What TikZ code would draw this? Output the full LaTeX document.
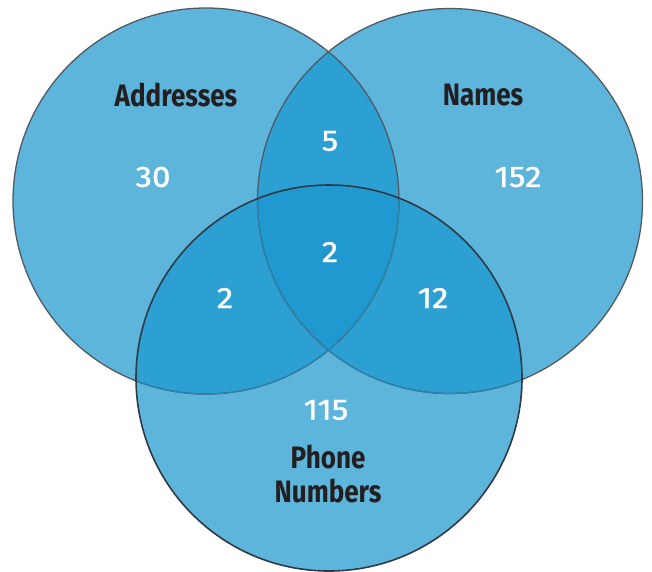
\documentclass[tikz,border=0pt]{standalone}
\usepackage{fontspec}
\setmainfont{Fira Sans}[FakeStretch=0.84]
\newfontfamily\numfont{Fira Sans}[FakeBold=1.2, FakeStretch=1.12]
\definecolor{one}{HTML}{5EB5DB}
\definecolor{two}{HTML}{2DA0D3}
\definecolor{three}{HTML}{1F99CF}
\definecolor{rim}{HTML}{4F5A64}
\definecolor{rimdark}{HTML}{2E3A45}
\definecolor{rimfaint}{HTML}{2A84AE}
\definecolor{ink}{HTML}{231F20}
\tikzset{
  rimline/.style={draw=rim, line width=1.3pt},
  rimdarkline/.style={draw=rimdark, line width=1.6pt},
  rimfaintline/.style={draw=rimfaint, line width=1.2pt},
  setlabel/.style={text=ink, font=\fontsize{31}{33}\selectfont\bfseries, align=center, inner sep=0pt},
  count/.style={text=white, font=\numfont\fontsize{29.5}{30}\selectfont, inner sep=0pt}
}
\begin{document}
\begin{tikzpicture}[x=1pt,y=-1pt]
\useasboundingbox (0,0) rectangle (652,571);
\fill[white] (0,0) rectangle (652,571);
\def\A{(206,201) circle[radius=193]}
\def\B{(450,201) circle[radius=192.5]}
\def\C{(329,378) circle[radius=193]}
\fill[one] \A; \fill[one] \B; \fill[one] \C;
\begin{scope} \clip \A; \fill[two] \B; \fill[two] \C; \end{scope}
\begin{scope} \clip \B; \fill[two] \C; \end{scope}
\begin{scope} \clip \A; \clip \B; \fill[three] \C; \end{scope}
\draw[rimline] \A;
\draw[rimline] \B;
\begin{scope} \clip \C; \draw[rimfaintline] \A; \draw[rimfaintline] \B; \end{scope}
\draw[rimdarkline] \C;
\node[setlabel] (addr) at (176,95) {Addresses};
\node[setlabel] (names) at (483,95) {Names};
\node[setlabel] (phone) at (328,474) {Phone\\[1pt]Numbers};
\node[count] (nA) at (153,177) {30};
\node[count] (nB) at (518,177) {152};
\node[count] (nAB) at (330,141) {5};
\node[count] (nABC) at (330,252) {2};
\node[count] (nAC) at (225,298) {2};
\node[count] (nBC) at (433,298) {12};
\node[count] (nC) at (326,410) {115};
\end{tikzpicture}
\end{document}
